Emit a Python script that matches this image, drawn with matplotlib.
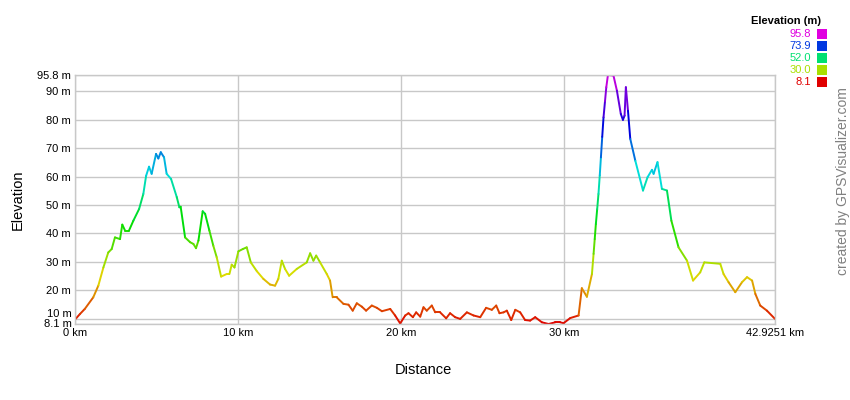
#!/usr/bin/env python3
"""Elevation profile, line coloured by elevation (GPS Visualizer style)."""

import numpy as np
import matplotlib
matplotlib.use("Agg")
import matplotlib.pyplot as plt
from matplotlib.collections import LineCollection
from matplotlib.colors import hsv_to_rgb
from matplotlib.patches import Rectangle

plt.rcParams["font.family"] = ["Liberation Sans", "DejaVu Sans"]

# distance (km) and elevation (m)
dist_km = [
    0.04, 0.3, 0.6, 1.12, 1.43, 1.74, 2.04, 2.25, 2.45, 2.76, 2.9, 3.07, 3.31,
    3.58, 3.93, 4.19, 4.36, 4.54, 4.7, 4.97, 5.11, 5.26, 5.46, 5.62, 5.89,
    6.24, 6.4, 6.48, 6.75, 7.06, 7.26, 7.42, 7.57, 7.83, 7.98, 8.24, 8.48,
    8.69, 8.96, 9.3, 9.47, 9.61, 9.78, 10.02, 10.29, 10.53, 10.78, 11.15,
    11.55, 11.96, 12.27, 12.47, 12.68, 12.88, 13.13, 13.6, 14.21, 14.42,
    14.62, 14.79, 15.03, 15.44, 15.64, 15.8, 16.05, 16.46, 16.77, 17.03,
    17.28, 17.59, 17.85, 18.2, 18.51, 18.82, 19.33, 19.63, 19.94, 20.25,
    20.45, 20.72, 20.92, 21.17, 21.37, 21.57, 21.88, 22.09, 22.39, 22.76,
    23.0, 23.31, 23.62, 24.03, 24.44, 24.85, 25.21, 25.56, 25.83, 26.03,
    26.28, 26.48, 26.75, 27.0, 27.3, 27.6, 27.91, 28.22, 28.63, 29.04,
    29.45, 29.75, 29.96, 30.37, 30.88, 31.08, 31.39, 31.7, 31.8, 31.87,
    31.94, 32.02, 32.1, 32.18, 32.25, 32.33, 32.41, 32.5, 32.58, 32.68,
    33.02, 33.23, 33.47, 33.6, 33.7, 33.78, 33.91, 34.05, 34.36, 34.83,
    35.11, 35.38, 35.48, 35.72, 35.99, 36.3, 36.57, 37.01, 37.53, 37.9,
    38.34, 38.59, 39.57, 39.77, 40.08, 40.49, 40.9, 41.21, 41.52, 41.72,
    42.02, 42.43, 42.9251,
]
elev_m = [
    9.9, 11.6, 13.4, 17.5, 21.6, 28.0, 33.3, 34.5, 38.6, 38.0, 43.1, 41.0, 41.0,
    44.5, 48.6, 53.9, 60.3, 63.5, 61.0, 68.0, 66.4, 68.6, 66.8, 61.0, 59.2,
    52.8, 49.2, 49.4, 38.6, 36.9, 36.3, 34.8, 37.5, 47.8, 46.9, 41.0, 35.7,
    31.6, 24.8, 25.7, 25.7, 29.0, 28.0, 33.7, 34.5, 35.1, 29.8, 26.7,
    24.0, 22.0, 21.6, 24.0, 30.4, 27.5, 25.1, 27.5, 29.8, 33.0,
    30.4, 32.2, 29.8, 25.7, 23.4, 17.5, 17.5, 15.2, 14.9, 12.8,
    15.4, 14.2, 12.8, 14.6, 13.8, 12.6, 13.4, 11.1, 8.3, 11.1,
    11.9, 10.5, 12.2, 10.7, 14.0, 12.8, 14.6, 12.2, 12.2, 10.1,
    11.9, 10.5, 9.9, 12.2, 11.1, 10.5, 13.8, 13.1, 14.6, 11.9,
    12.2, 12.8, 9.5, 13.1, 12.2, 9.5, 9.3, 10.5, 8.7, 8.1,
    8.7, 8.7, 8.4, 10.2, 11.1, 20.7, 17.7, 25.7, 32.8, 38.0,
    43.3, 48.5, 53.9, 60.5, 66.8, 74.0, 80.9, 86.5, 91.5, 95.8,
    95.6, 90.3, 82.1, 80.0, 81.5, 91.5, 83.2, 73.3, 65.6, 55.1,
    59.8, 62.4, 61.0, 65.1, 55.7, 55.1, 44.5, 35.1, 30.4, 23.4,
    26.3, 29.8, 29.3, 25.7, 22.8, 19.3, 22.8, 24.6, 23.4, 18.7,
    14.6, 12.8, 9.9,
]

legend_vals = ["95.8", "73.9", "52.0", "30.0", "8.1"]
y_ticks = [8.1, 10, 20, 30, 40, 50, 60, 70, 80, 90, 95.8]
y_labels = ["8.1 m", "10 m", "20 m", "30 m", "40 m", "50 m", "60 m",
            "70 m", "80 m", "90 m", "95.8 m"]
x_ticks = [0, 10, 20, 30, 42.9251]
x_labels = ["0 km", "10 km", "20 km", "30 km", "42.9251 km"]

E_MIN, E_MAX = 8.1, 95.8


def elev_color(e, v=0.87):
    h = (np.clip(np.asarray(e, float), E_MIN, E_MAX) - E_MIN) / (E_MAX - E_MIN) * 300 / 360
    hsv = np.stack([h, np.ones_like(h), np.full_like(h, v)], axis=-1)
    return hsv_to_rgb(hsv)


fig = plt.figure(figsize=(8.5, 4), dpi=100)
ax = fig.add_axes([75 / 850, 1 - 324 / 400, 700 / 850, 249 / 400])

x = np.array(dist_km)
y = np.array(elev_m)
segs = np.stack([np.column_stack([x[:-1], y[:-1]]),
                 np.column_stack([x[1:], y[1:]])], axis=1)
lc = LineCollection(segs, colors=elev_color((y[:-1] + y[1:]) / 2),
                    linewidths=1.4, capstyle="round", joinstyle="round")
ax.add_collection(lc)

ax.set_xlim(0, 42.9251)
ax.set_ylim(E_MIN, E_MAX)
ax.set_xticks(x_ticks)
ax.set_xticklabels(x_labels)
ax.set_yticks(y_ticks)
# bottom two labels are drawn by hand so they don't collide
ax.set_yticklabels([""] * 2 + y_labels[2:])
ax.tick_params(length=0, labelsize=8, pad=3, colors="#000000")
ax.text(-3 / 700, 10, y_labels[1], transform=ax.get_yaxis_transform(),
        ha="right", va="bottom", fontsize=8)
ax.text(-3 / 700, 8.1, y_labels[0], transform=ax.get_yaxis_transform(),
        ha="right", va="center", fontsize=8)
ax.grid(True, color="#c8c8c8", linewidth=1)
ax.set_axisbelow(True)
for s in ax.spines.values():
    s.set_color("#c8c8c8")
    s.set_linewidth(1)

fig.text(423 / 850, 1 - 370 / 400, "Distance", ha="center", va="center", fontsize=10.5)
fig.text(18 / 850, 1 - 200 / 400, "Elevation", ha="center", va="center",
         rotation=90, fontsize=10.5)
fig.text(843 / 850, 1 - 181 / 400, "created by GPSVisualizer.com", ha="center",
         va="center", rotation=90, fontsize=10, color="#808080")

# colour legend
fig.text(786 / 850, 1 - 21 / 400, "Elevation (m)", ha="center", va="center",
         fontsize=8, fontweight="bold")
for i, v in enumerate(legend_vals):
    yc = 34 + 12 * i
    col = elev_color(float(v), v=0.88)
    fig.text(811 / 850, 1 - yc / 400, v, ha="right", va="center",
             fontsize=8, color=col)
    fig.patches.append(Rectangle((817 / 850, 1 - (yc + 5) / 400), 10 / 850, 10 / 400,
                                 transform=fig.transFigure, facecolor=col,
                                 edgecolor="none"))

fig.savefig("out.png", dpi=100)
